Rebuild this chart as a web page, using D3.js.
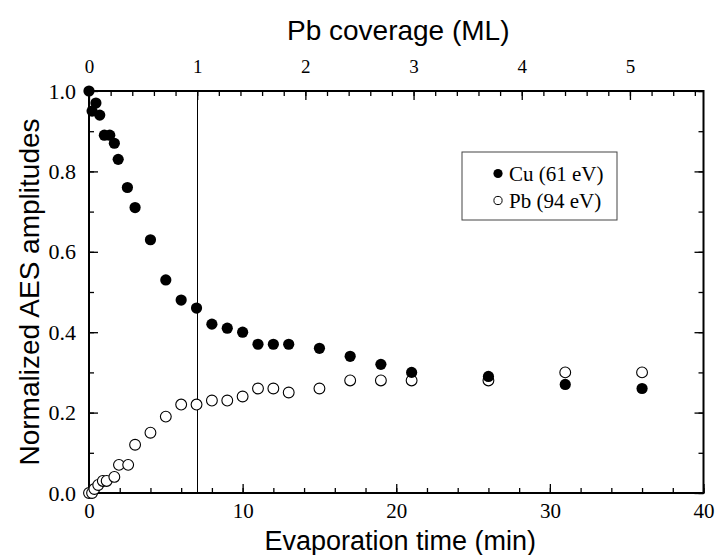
<!DOCTYPE html>
<html>
<head>
<meta charset="utf-8">
<script src="https://cdn.jsdelivr.net/npm/d3@7"></script>
<style>
  body { margin: 0; background: #fff; }
  svg { display: block; }
</style>
</head>
<body>
<script>
// Cu (61 eV) amplitudes, filled circles
const cuTime = [0, 0.2, 0.45, 0.7, 1.0, 1.35, 1.65, 1.9, 2.5, 3, 4, 5, 6, 7, 8, 9, 10, 11, 12, 13, 15, 17, 19, 21, 26, 31, 36];
const cuAmp = [1.0, 0.95, 0.97, 0.94, 0.89, 0.89, 0.87, 0.83, 0.76, 0.71, 0.63, 0.53, 0.48, 0.46, 0.42, 0.41, 0.40, 0.37, 0.37, 0.37, 0.36, 0.34, 0.32, 0.30, 0.29, 0.27, 0.26];

// Pb (94 eV) amplitudes, open circles
const pbTime = [0, 0.2, 0.35, 0.6, 0.9, 1.15, 1.65, 1.95, 2.55, 3, 4, 5, 6, 7, 8, 9, 10, 11, 12, 13, 15, 17, 19, 21, 26, 31, 36];
const pbAmp = [0, 0, 0.01, 0.02, 0.03, 0.03, 0.04, 0.07, 0.07, 0.12, 0.15, 0.19, 0.22, 0.22, 0.23, 0.23, 0.24, 0.26, 0.26, 0.25, 0.26, 0.28, 0.28, 0.28, 0.28, 0.30, 0.30];

const xTicks = [0, 10, 20, 30, 40];
const yTicks = [0, 0.2, 0.4, 0.6, 0.8, 1.0];
const mlTicks = [0, 1, 2, 3, 4, 5];
const mlMax = 5.68; // coverage at 40 min
const mlMark = 1;   // vertical guide at 1 ML

const width = 718;
const height = 555;
const plotLeft = 89, plotRight = 703.5, plotTop = 91, plotBottom = 493;

const x = d3.scaleLinear().domain([0, 40]).range([plotLeft, plotRight]);
const xTop = d3.scaleLinear().domain([0, mlMax]).range([plotLeft, plotRight]);
const y = d3.scaleLinear().domain([0, 1]).range([plotBottom, plotTop]);

const svg = d3.select("body").append("svg")
  .attr("width", width).attr("height", height);

const serif = "'Liberation Serif', 'Times New Roman', serif";
const sans = "'Liberation Sans', Arial, Helvetica, sans-serif";

function styleAxis(size) {
  return function (g) {
    g.select(".domain").remove();
    g.selectAll("line").attr("stroke", "#000").attr("stroke-width", 1.3);
    g.selectAll("text").attr("font-family", serif).attr("font-size", size).attr("fill", "#000");
  };
}

const noLabel = () => "";

// minor ticks
const xMinor = d3.range(0, 40.01, 2);
const yMinor = d3.range(0, 1.001, 0.1);
const mlMinor = d3.range(0, mlMax, 0.2);

svg.append("g").attr("transform", `translate(0,${plotBottom})`)
  .call(d3.axisBottom(x).tickValues(xMinor).tickSize(-5).tickFormat(noLabel))
  .call(styleAxis(21));
svg.append("g").attr("transform", `translate(0,${plotBottom})`)
  .call(d3.axisBottom(x).tickValues(xTicks).tickSize(-9).tickPadding(10).tickFormat(d3.format("d")))
  .call(styleAxis(21));

svg.append("g").attr("transform", `translate(0,${plotTop})`)
  .call(d3.axisTop(xTop).tickValues(mlMinor).tickSize(-5).tickFormat(noLabel))
  .call(styleAxis(19));
svg.append("g").attr("transform", `translate(0,${plotTop})`)
  .call(d3.axisTop(xTop).tickValues(mlTicks).tickSize(-9).tickPadding(18).tickFormat(d3.format("d")))
  .call(styleAxis(19));

svg.append("g").attr("transform", `translate(${plotLeft},0)`)
  .call(d3.axisLeft(y).tickValues(yMinor).tickSize(-5).tickFormat(noLabel))
  .call(styleAxis(22));
svg.append("g").attr("transform", `translate(${plotLeft},0)`)
  .call(d3.axisLeft(y).tickValues(yTicks).tickSize(-9).tickPadding(13).tickFormat(d3.format(".1f")))
  .call(styleAxis(22));

svg.append("g").attr("transform", `translate(${plotRight},0)`)
  .call(d3.axisRight(y).tickValues(yMinor).tickSize(-5).tickFormat(noLabel))
  .call(styleAxis(22));
svg.append("g").attr("transform", `translate(${plotRight},0)`)
  .call(d3.axisRight(y).tickValues(yTicks).tickSize(-9).tickFormat(noLabel))
  .call(styleAxis(22));

// frame
svg.append("rect")
  .attr("x", plotLeft).attr("y", plotTop)
  .attr("width", plotRight - plotLeft).attr("height", plotBottom - plotTop)
  .attr("fill", "none").attr("stroke", "#000").attr("stroke-width", 2);

// 1 ML guide
const guideX = Math.round(xTop(mlMark)) + 0.5;
svg.append("line")
  .attr("x1", guideX).attr("x2", guideX)
  .attr("y1", plotTop).attr("y2", plotBottom)
  .attr("stroke", "#000").attr("stroke-width", 1);

// Pb open circles
svg.append("g").selectAll("circle")
  .data(pbTime.map((t, i) => [t, pbAmp[i]]))
  .join("circle")
  .attr("cx", d => x(d[0])).attr("cy", d => y(d[1])).attr("r", 5.4)
  .attr("fill", "#fff").attr("stroke", "#000").attr("stroke-width", 1.1);

// Cu filled circles
svg.append("g").selectAll("circle")
  .data(cuTime.map((t, i) => [t, cuAmp[i]]))
  .join("circle")
  .attr("cx", d => x(d[0])).attr("cy", d => y(d[1])).attr("r", 5.6)
  .attr("fill", "#000");

// legend
const lg = svg.append("g");
lg.append("rect").attr("x", 462).attr("y", 152).attr("width", 155).attr("height", 68)
  .attr("fill", "#fff").attr("stroke", "#444").attr("stroke-width", 1);
lg.append("circle").attr("cx", 498).attr("cy", 173.5).attr("r", 4.6).attr("fill", "#000");
lg.append("circle").attr("cx", 498).attr("cy", 200.5).attr("r", 4.1).attr("fill", "#fff").attr("stroke", "#000");
lg.append("text").attr("x", 509).attr("y", 180.5).text("Cu (61 eV)")
  .attr("font-family", serif).attr("font-size", 21);
lg.append("text").attr("x", 509).attr("y", 207.5).text("Pb (94 eV)")
  .attr("font-family", serif).attr("font-size", 21);

// axis titles
svg.append("text").attr("x", (plotLeft + plotRight) / 2 + 4).attr("y", 550)
  .attr("text-anchor", "middle").attr("font-family", sans).attr("font-size", 27)
  .text("Evaporation time (min)");
svg.append("text").attr("x", (plotLeft + plotRight) / 2 + 2).attr("y", 40)
  .attr("text-anchor", "middle").attr("font-family", sans).attr("font-size", 28)
  .text("Pb coverage (ML)");
svg.append("text")
  .attr("transform", `translate(39,${(plotTop + plotBottom) / 2}) rotate(-90)`)
  .attr("text-anchor", "middle").attr("font-family", sans).attr("font-size", 28)
  .text("Normalized AES amplitudes");
</script>
</body>
</html>
